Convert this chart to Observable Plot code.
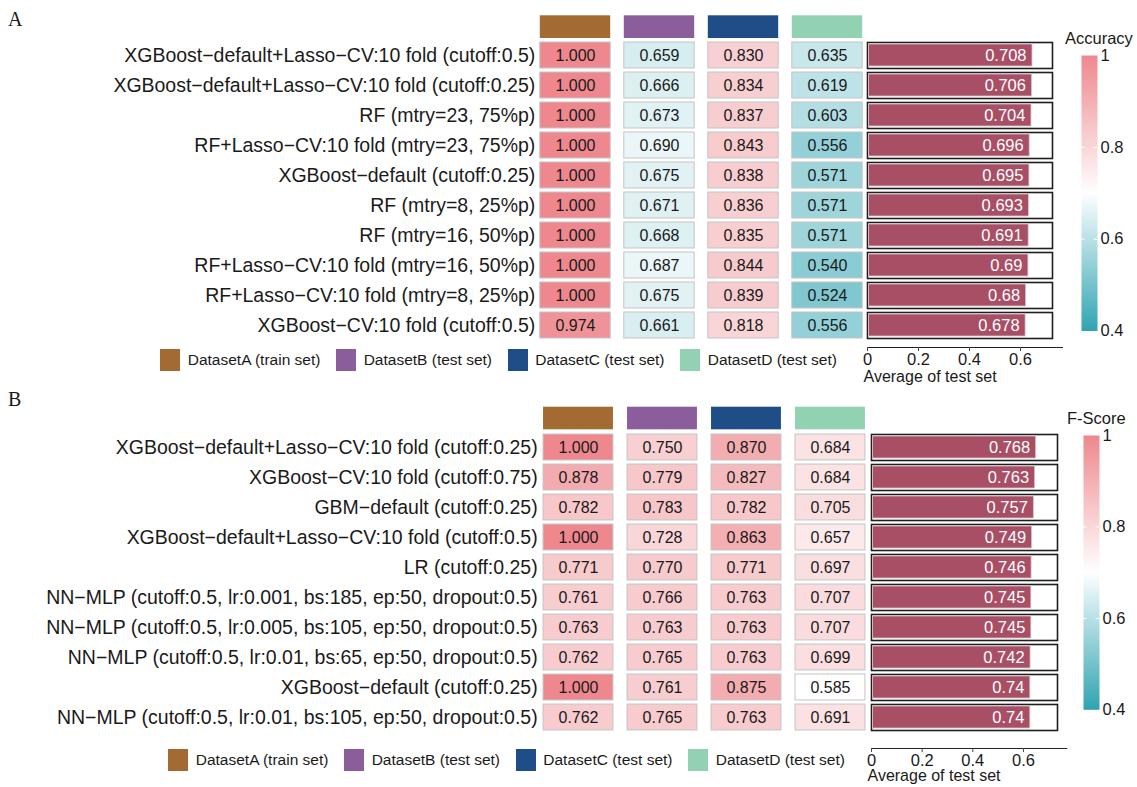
<!DOCTYPE html>
<html><head><meta charset="utf-8">
<script src="https://cdn.jsdelivr.net/npm/d3@7"></script>
<script src="https://cdn.jsdelivr.net/npm/@observablehq/plot@0.6"></script>
<style>
body{margin:0;background:#fff}
#root{position:relative;width:1137px;height:787px;overflow:hidden;font-family:'Liberation Sans',Arial,Helvetica,sans-serif;color:#1a1a1a}
.lbl{position:absolute;white-space:nowrap}
</style>
</head><body><div id="root"></div>
<script>
// ---------- data ----------
const datasets = ["DatasetA (train set)", "DatasetB (test set)", "DatasetC (test set)", "DatasetD (test set)"];
const datasetColors = ["#A36B32", "#8B5E9B", "#1E4D87", "#93D1B3"];

const modelsA = [
  "XGBoost−default+Lasso−CV:10 fold (cutoff:0.5)",
  "XGBoost−default+Lasso−CV:10 fold (cutoff:0.25)",
  "RF (mtry=23, 75%p)",
  "RF+Lasso−CV:10 fold (mtry=23, 75%p)",
  "XGBoost−default (cutoff:0.25)",
  "RF (mtry=8, 25%p)",
  "RF (mtry=16, 50%p)",
  "RF+Lasso−CV:10 fold (mtry=16, 50%p)",
  "RF+Lasso−CV:10 fold (mtry=8, 25%p)",
  "XGBoost−CV:10 fold (cutoff:0.5)"
];
const accA = [1.000, 1.000, 1.000, 1.000, 1.000, 1.000, 1.000, 1.000, 1.000, 0.974];
const accB = [0.659, 0.666, 0.673, 0.690, 0.675, 0.671, 0.668, 0.687, 0.675, 0.661];
const accC = [0.830, 0.834, 0.837, 0.843, 0.838, 0.836, 0.835, 0.844, 0.839, 0.818];
const accD = [0.635, 0.619, 0.603, 0.556, 0.571, 0.571, 0.571, 0.540, 0.524, 0.556];
const accAvgLabel = [0.708, 0.706, 0.704, 0.696, 0.695, 0.693, 0.691, 0.69, 0.68, 0.678];
const accAvgBar = [0.647, 0.645, 0.643, 0.636, 0.635, 0.633, 0.632, 0.631, 0.622, 0.620];

const modelsB = [
  "XGBoost−default+Lasso−CV:10 fold (cutoff:0.25)",
  "XGBoost−CV:10 fold (cutoff:0.75)",
  "GBM−default (cutoff:0.25)",
  "XGBoost−default+Lasso−CV:10 fold (cutoff:0.5)",
  "LR (cutoff:0.25)",
  "NN−MLP (cutoff:0.5, lr:0.001, bs:185, ep:50, dropout:0.5)",
  "NN−MLP (cutoff:0.5, lr:0.005, bs:105, ep:50, dropout:0.5)",
  "NN−MLP (cutoff:0.5, lr:0.01, bs:65, ep:50, dropout:0.5)",
  "XGBoost−default (cutoff:0.25)",
  "NN−MLP (cutoff:0.5, lr:0.01, bs:105, ep:50, dropout:0.5)"
];
const fA = [1.000, 0.878, 0.782, 1.000, 0.771, 0.761, 0.763, 0.762, 1.000, 0.762];
const fB = [0.750, 0.779, 0.783, 0.728, 0.770, 0.766, 0.763, 0.765, 0.761, 0.765];
const fC = [0.870, 0.827, 0.782, 0.863, 0.771, 0.763, 0.763, 0.763, 0.875, 0.763];
const fD = [0.684, 0.684, 0.705, 0.657, 0.697, 0.707, 0.707, 0.699, 0.585, 0.691];
const fAvgLabel = [0.768, 0.763, 0.757, 0.749, 0.746, 0.745, 0.745, 0.742, 0.74, 0.74];
const fAvgBar = [0.650, 0.646, 0.641, 0.634, 0.632, 0.631, 0.631, 0.628, 0.627, 0.627];

const axisTicks = [0, 0.2, 0.4, 0.6];
const legendTicks = [0.4, 0.6, 0.8, 1];
const colorDomain = [0.4, 0.7, 1];          // colour bar legend
const cellDomainA = [0.4, 0.72, 1];         // cell colours as they appear in panel A
const cellDomainB = [0.4, 0.585, 1];        // cell colours as they appear in panel B
const colorRange = ["#2FA4B2", "#FFFFFF", "#EE888E"];

// ---------- drawing ----------
const FONT = "'Liberation Sans', Arial, Helvetica, sans-serif";
const root = document.getElementById("root");
const baseStyle = {background: "transparent", fontFamily: FONT, color: "#1a1a1a", overflow: "visible"};

function place(el, left, top) {
  el.style.position = "absolute";
  el.style.left = left + "px";
  el.style.top = top + "px";
  root.appendChild(el);
}
function label(text, left, top, css) {
  const d = document.createElement("div");
  d.className = "lbl";
  d.textContent = text;
  Object.assign(d.style, css || {});
  place(d, left, top);
}

function panel(cfg) {
  const {models, cols, avgLabel, avgBar, cellDomain, g, scaleTitle, letter} = cfg;
  // heatmap
  const inX = (g.colStep - g.cellW) / 2;
  const mL = g.cellLeft - inX;
  const mt = 6;
  const inY = (g.rowStep - g.cellH) / 2;
  const svgTop = g.rowTop1 - inY - g.rowStep - mt;
  const hdrInTop = g.headerTop - (svgTop + mt);
  const hdrInBottom = g.rowStep - hdrInTop - g.headerH;
  const cells = [];
  models.forEach((m, i) => cols.forEach((arr, j) => cells.push({model: m, ds: datasets[j], value: arr[i]})));
  const hm = Plot.plot({
    width: mL + 4 * g.colStep, height: mt + 11 * g.rowStep + 2,
    marginLeft: mL, marginRight: 0, marginTop: mt, marginBottom: 2,
    style: baseStyle,
    x: {domain: datasets, padding: 0, axis: null},
    y: {domain: ["header", ...models], padding: 0},
    color: {type: "linear", domain: cellDomain, range: colorRange, interpolate: "rgb", clamp: true},
    marks: [
      ...datasets.map((d, j) => Plot.cell([d], {x: v => v, y: () => "header", fill: datasetColors[j],
        insetLeft: inX, insetRight: inX, insetTop: hdrInTop, insetBottom: hdrInBottom})),
      Plot.cell(cells, {x: "ds", y: "model", fill: "value", stroke: "#c4c4c4", strokeWidth: 1,
        insetLeft: inX, insetRight: inX, insetTop: inY, insetBottom: inY}),
      Plot.text(cells, {x: "ds", y: "model", text: d => d.value.toFixed(3), fontSize: 16, fill: "#1a1a1a"}),
      Plot.axisY(models, {anchor: "left", tickSize: 0, tickPadding: 0, dx: inX - 4.5, fontSize: 19.5, label: null})
    ]
  });
  place(hm, 0, svgTop);

  // average bars (one framed facet per model)
  const gap = g.rowStep - g.cellH;
  const bars = models.map((m, i) => ({model: m, label: avgLabel[i], len: avgBar[i]}));
  const bp = Plot.plot({
    width: 10 + (g.boxX1 - g.zeroX) + 10, height: 10 + 10 * g.rowStep - gap + 10,
    marginLeft: 10, marginRight: 10, marginTop: 10, marginBottom: 10,
    style: baseStyle,
    x: {domain: [0, (g.boxX1 - g.zeroX) / g.pxPerUnit], axis: null},
    fy: {domain: models, paddingInner: gap / g.rowStep, paddingOuter: 0, axis: null},
    marks: [
      Plot.frame({stroke: "#1f1f1f", strokeWidth: 1.6}),
      Plot.barX(bars, {fy: "model", x: "len", fill: "#A84F66", stroke: "#d6c6ca", strokeWidth: 0.8,
        insetLeft: 1.5, insetTop: 2, insetBottom: 2}),
      Plot.text(bars, {fy: "model", x: "len", text: d => String(d.label), textAnchor: "end", dx: -6,
        fill: "white", fontSize: 16.5})
    ]
  });
  place(bp, g.zeroX - 10, g.rowTop1 - 10);

  // x axis for average
  const ap = Plot.plot({
    width: 10 + (g.axisEnd - g.zeroX) + 30, height: 45,
    marginLeft: 10, marginRight: 30, marginTop: 0, marginBottom: 44,
    style: baseStyle,
    x: {domain: [0, (g.axisEnd - g.zeroX) / g.pxPerUnit]},
    marks: [
      Plot.frame({anchor: "bottom", stroke: "#222", strokeWidth: 1}),
      Plot.axisX(axisTicks, {anchor: "bottom", tickSize: 4, tickPadding: 1.5, fontSize: 16.5, label: null,
        stroke: "#444", tickFormat: "~g"}),
      Plot.text(["Average of test set"], {frameAnchor: "bottom-left", dx: -4, dy: g.titleOff, textAnchor: "start",
        fontSize: 16, fill: "#1a1a1a"})
    ]
  });
  place(ap, g.zeroX - 10, g.axisY - 1);

  // color ramp legend
  const rp = Plot.plot({
    width: 16 + 40, height: 20 + (g.rampBottom - g.rampTop),
    marginLeft: 0, marginRight: 40, marginTop: 10, marginBottom: 10,
    style: baseStyle,
    x: {domain: [0, 1], axis: null},
    y: {domain: [colorDomain[0], colorDomain[2]]},
    color: {type: "linear", domain: colorDomain, range: colorRange, interpolate: "rgb"},
    marks: [
      Plot.raster({fill: (x, y) => y, x1: 0, x2: 1, y1: colorDomain[0], y2: colorDomain[2], pixelSize: 1}),
      Plot.tickY([0.6, 0.8], {stroke: "white", insetLeft: 12.5, strokeWidth: 1}),
      Plot.tickY([0.6, 0.8], {stroke: "white", insetRight: 12.5, strokeWidth: 1}),
      Plot.axisY(legendTicks, {anchor: "right", tickSize: 0, tickPadding: 3, fontSize: 16.5, label: null, tickFormat: "~g"})
    ]
  });
  place(rp, g.rampX, g.rampTop - 10);
  label(scaleTitle, g.titleX, g.titleY - 10, {fontSize: "16.5px", lineHeight: "20px"});

  // dataset swatch legend
  const lg = Plot.legend({
    color: {type: "ordinal", domain: datasets, range: datasetColors},
    legend: "swatches", swatchWidth: 20, swatchHeight: 22,
    style: {fontSize: "15.5px", fontFamily: FONT, color: "#1a1a1a", width: "760px", marginBottom: "0"}
  });
  place(lg, g.legendLeft, g.legendY - 16.5);

  // panel letter
  label(letter, 8, g.letterY - 12, {fontFamily: "'Liberation Serif', 'Times New Roman', serif", fontSize: "20px", lineHeight: "24px"});
}

panel({
  models: modelsA, cols: [accA, accB, accC, accD], avgLabel: accAvgLabel, avgBar: accAvgBar,
  cellDomain: cellDomainA, scaleTitle: "Accuracy", letter: "A",
  g: {cellLeft: 539.3, colStep: 84.2, cellW: 70.6, rowTop1: 39.3, rowStep: 30.6, cellH: 26.6,
      headerTop: 12, headerH: 23.3, boxX1: 1052, zeroX: 867, pxPerUnit: 255, axisY: 346.7, axisEnd: 1062,
      titleOff: 34, rampX: 1081, rampTop: 55, rampBottom: 330.5, titleX: 1065, titleY: 38,
      legendLeft: 160, legendY: 360, letterY: 19}
});
panel({
  models: modelsB, cols: [fA, fB, fC, fD], avgLabel: fAvgLabel, avgBar: fAvgBar,
  cellDomain: cellDomainB, scaleTitle: "F-Score", letter: "B",
  g: {cellLeft: 541.7, colStep: 84.7, cellW: 70.6, rowTop1: 430.7, rowStep: 30.67, cellH: 26.6,
      headerTop: 402.7, headerH: 23.3, boxX1: 1056.7, zeroX: 870.7, pxPerUnit: 253.3, axisY: 748.3, axisEnd: 1066,
      titleOff: 32.5, rampX: 1083.3, rampTop: 435, rampBottom: 709.3, titleX: 1067, titleY: 418,
      legendLeft: 168, legendY: 760, letterY: 399}
});
</script>
</body></html>
